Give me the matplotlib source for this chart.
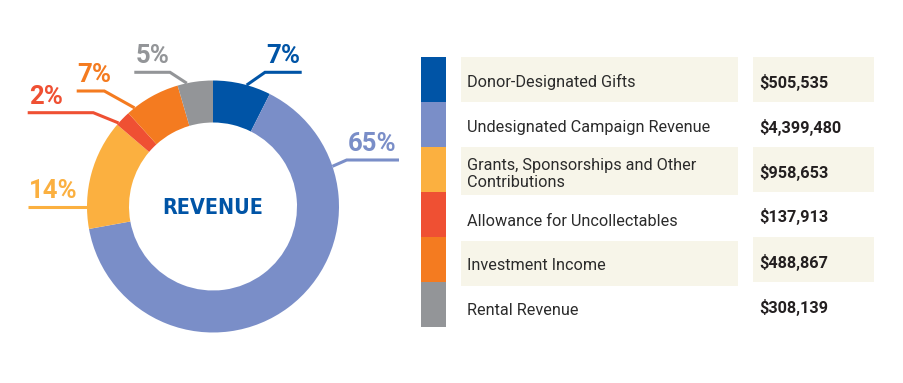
import numpy as np
import matplotlib.pyplot as plt
from matplotlib.patches import Rectangle

# data
categories = ["Donor-Designated Gifts", "Undesignated Campaign Revenue",
              "Grants, Sponsorships and Other\nContributions",
              "Allowance for Uncollectables", "Investment Income", "Rental Revenue"]
amounts = [505535, 4399480, 958653, 137913, 488867, 308139]
pct_labels = ["7%", "65%", "14%", "2%", "7%", "5%"]
colors = ["#0054A6", "#7A8EC8", "#FBB040", "#EF5033", "#F47B20", "#939598"]

W, H = 904, 383
CX, CY, R, R_IN = 213, 206.5, 126, 84

# leader layout: (anchor angle clockwise from top, elbow point, left/right end x)
leaders = [
    (15.5, (265, 72.3), 301.7),
    (71.4, (346.7, 160), 399),
    (269.6, None, 27.7),
    (311.5, (93.3, 112.7), 27.7),
    (321.5, (104.3, 91), 76.7),
    (348.0, (170, 72.3), 134.3),
]

plt.rcParams['font.family'] = ['Roboto', 'DejaVu Sans']
fig = plt.figure(figsize=(W / 100, H / 100), dpi=100)

# donut
ax_pie = fig.add_axes([(CX - R) / W, (H - CY - R) / H, 2 * R / W, 2 * R / H])
ax_pie.pie(amounts, colors=colors, startangle=90, counterclock=False, radius=1,
           wedgeprops=dict(width=(R - R_IN) / R, linewidth=0))
ax_pie.set_xlim(-1, 1)
ax_pie.set_ylim(-1, 1)
ax_pie.axis('off')

# overlay in pixel coordinates
ax = fig.add_axes([0, 0, 1, 1])
ax.set_xlim(0, W)
ax.set_ylim(H, 0)
ax.axis('off')

ax.text(CX, CY + 1, "REVENUE", ha='center', va='center', color=colors[0],
        fontsize=15.5, fontweight='bold', family='DejaVu Sans', fontstretch='condensed')

for (ang, elbow, end_x), lab, col in zip(leaders, pct_labels, colors):
    a = np.deg2rad(ang)
    ax0, ay0 = CX + R * np.sin(a), CY - R * np.cos(a)
    if elbow is None:
        elbow = (ax0, ay0)
    ly = elbow[1]
    ax.plot([ax0, elbow[0], end_x], [ay0, ly, ly], color=col, lw=2.2,
            solid_capstyle='butt', solid_joinstyle='miter')
    ax.text(min(elbow[0], end_x) + 1, ly - 9, lab, color=col, fontsize=18.5,
            fontweight='bold', ha='left', va='baseline')

# table
strip_top, row_h = 56.7, 45
label_boxes = [(56.7, 45), None, (147.3, 47.7), None, (241, 45), None]
value_boxes = [(56.7, 45), None, (147.3, 44.4), None, (237.3, 45), None]
label_y = [82.3, 127.3, 174.2, 221, 266, 310.7]
value_y = [82.3, 127.3, 172.3, 216.7, 262.7, 307.3]
beige = "#F7F5E9"

for i, (cat, amt, col) in enumerate(zip(categories, amounts, colors)):
    ax.add_patch(Rectangle((421, strip_top + i * row_h), 25, row_h, color=col, lw=0))
    if label_boxes[i]:
        y0, h = label_boxes[i]
        ax.add_patch(Rectangle((461, y0), 276.7, h, color=beige, lw=0))
    if value_boxes[i]:
        y0, h = value_boxes[i]
        ax.add_patch(Rectangle((753.3, y0), 120.7, h, color=beige, lw=0))
    ax.text(467.3, label_y[i], cat, ha='left', va='center', fontsize=11.7,
            color="#2b2b2b", linespacing=1.12)
    ax.text(759.3, value_y[i], f"${amt:,}", ha='left', va='center', fontsize=11.7,
            fontweight='bold', color="#231F20")

fig.savefig("out.png", dpi=100)
